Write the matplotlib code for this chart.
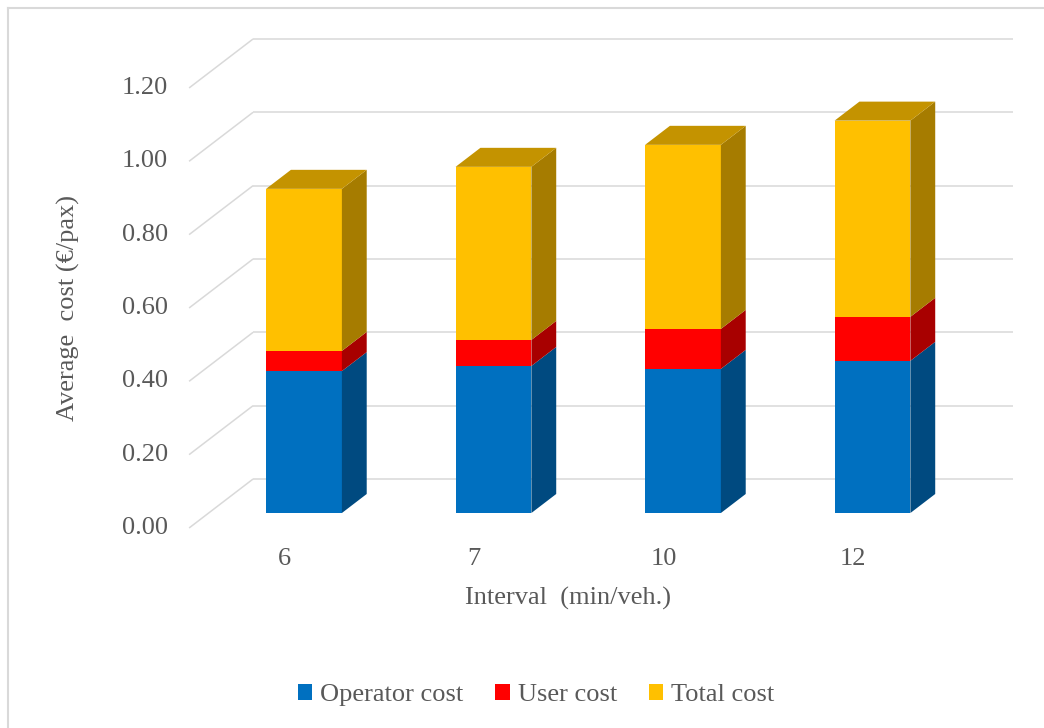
import matplotlib
matplotlib.use("Agg")
import matplotlib.pyplot as plt
from matplotlib.patches import Polygon, Patch
from matplotlib.lines import Line2D
import numpy as np

# average cost per passenger, by headway
intervals = ["6", "7", "10", "12"]
operator_cost = [0.387, 0.401, 0.393, 0.415]
user_cost = [0.055, 0.071, 0.109, 0.120]
total_cost = [0.442, 0.472, 0.502, 0.535]
y_ticks = [0.0, 0.2, 0.4, 0.6, 0.8, 1.0, 1.2]

series = [
    ("Operator cost", operator_cost, "#0070C0", "#004A80", "#005A9A"),
    ("User cost", user_cost, "#FF0000", "#A80000", "#C00000"),
    ("Total cost", total_cost, "#FFC000", "#A67C00", "#C49300"),
]

TEXT = "#595959"
GRID = "#D9D9D9"
plt.rcParams["font.family"] = ["Liberation Serif", "DejaVu Serif"]

W, H = 1044, 728
fig = plt.figure(figsize=(W / 100, H / 100), dpi=100)
ax = fig.add_axes([0, 0, 1, 1])
ax.set_axis_off()

# pixel layout of the oblique "3-D" frame: category 0 / value 0 on the floor front
x0_px, y0_px = 284.4, 528.0
px_per_cat, px_per_val = 189.5, 366.7
ax.set_xlim(-x0_px / px_per_cat, (W - x0_px) / px_per_cat)
ax.set_ylim(-(H - y0_px) / px_per_val, y0_px / px_per_val)

# depth vector (floor front -> back wall), in data units
DX, DY = 64 / px_per_cat, 49 / px_per_val
d1, d2 = 0.306, 0.694          # bar front / back depth
bar_w = 0.40
floor_left = -0.503
wall_right = 3.845

# walls: diagonal on the side wall, horizontal on the back wall
for v in y_ticks:
    ax.plot([floor_left, floor_left + DX], [v, v + DY], color=GRID, lw=1.1,
            solid_capstyle="butt", zorder=1)
    ax.plot([floor_left + DX, wall_right], [v + DY, v + DY], color=GRID, lw=1.1,
            solid_capstyle="butt", zorder=1)
    ax.text(floor_left - 0.11, v, f"{v:.2f}", ha="right", va="center",
            fontsize=19, color=TEXT)

xs = np.arange(len(intervals))
bottoms = np.zeros(len(intervals))
tops = np.sum([s[1] for s in series], axis=0)
for name, vals, front, side, top in series:
    vals = np.asarray(vals)
    ax.bar(xs + d1 * DX, vals, bar_w, bottom=bottoms + d1 * DY, color=front,
           linewidth=0, zorder=3)
    for i, x in enumerate(xs):
        xr = x + bar_w / 2
        y_lo, y_hi = bottoms[i], bottoms[i] + vals[i]
        ax.add_patch(Polygon([(xr + d1 * DX, y_lo + d1 * DY), (xr + d2 * DX, y_lo + d2 * DY),
                              (xr + d2 * DX, y_hi + d2 * DY), (xr + d1 * DX, y_hi + d1 * DY)],
                             closed=True, facecolor=side, edgecolor="none", zorder=3))
        if np.isclose(y_hi, tops[i]):
            xl = x - bar_w / 2
            ax.add_patch(Polygon([(xl + d1 * DX, y_hi + d1 * DY), (xr + d1 * DX, y_hi + d1 * DY),
                                  (xr + d2 * DX, y_hi + d2 * DY), (xl + d2 * DX, y_hi + d2 * DY)],
                                 closed=True, facecolor=top, edgecolor="none", zorder=3))
    bottoms = bottoms + vals

for x, lab in zip(xs, intervals):
    ax.text(x, -0.0845, lab, ha="center", va="center", fontsize=19, color=TEXT)

ax.text(1.497, -0.191, "Interval  (min/veh.)", ha="center", va="center",
        fontsize=19, color=TEXT)
ax.text(-1.142, 0.600, "Average  cost (€/pax)", ha="center", va="center",
        rotation=90, fontsize=19, color=TEXT)

handles = [Patch(facecolor=s[2], edgecolor="none", label=s[0]) for s in series]
fig.legend(handles=handles, loc="center", bbox_to_anchor=(536 / W, 1 - 695 / H),
           ncol=3, frameon=False, fontsize=19, labelcolor=TEXT,
           handlelength=0.55, handleheight=0.55, handletextpad=0.3,
           columnspacing=1.2)

# chart frame (left and top edges)
fig.add_artist(Line2D([8 / W, 8 / W], [0, 1 - 8 / H], color=GRID, lw=1.5))
fig.add_artist(Line2D([8 / W, 1], [1 - 8 / H, 1 - 8 / H], color=GRID, lw=1.5))

fig.savefig("out.png", dpi=100)
